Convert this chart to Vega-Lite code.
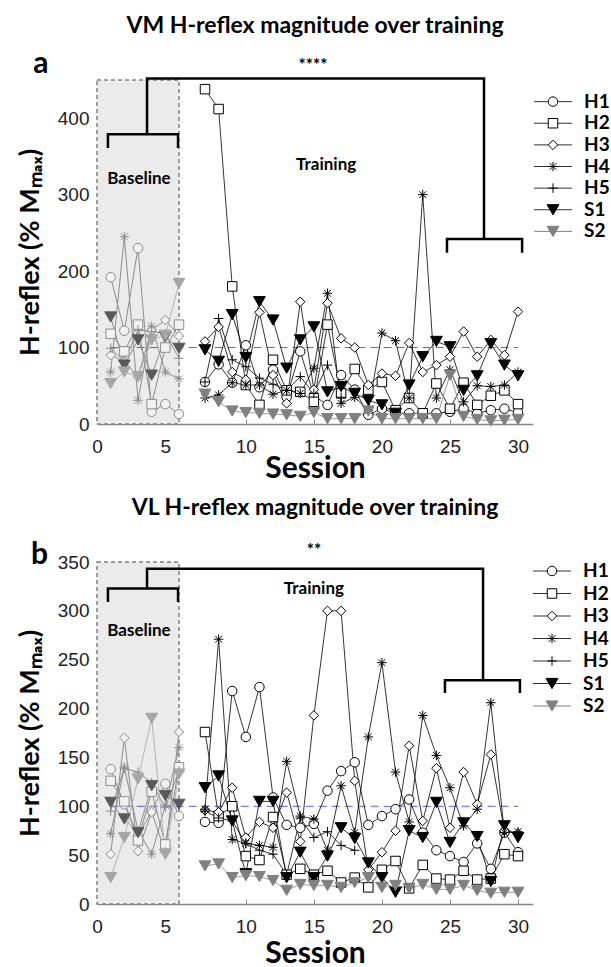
{
"$schema": "https://vega.github.io/schema/vega-lite/v6.json",
"padding": {"left": 16, "top": 15, "right": 0, "bottom": 0},
"config": {"view": {"stroke": null}, "font": "Liberation Sans"},
"datasets": {
"a": [
{"series":"H1","session":1,"value":192,"phase":"B"},{"series":"H1","session":2,"value":122,"phase":"B"},{"series":"H1","session":3,"value":230,"phase":"B"},{"series":"H1","session":4,"value":16,"phase":"B"},{"series":"H1","session":5,"value":26,"phase":"B"},{"series":"H1","session":6,"value":13,"phase":"B"},
{"series":"H2","session":1,"value":118,"phase":"B"},{"series":"H2","session":2,"value":95,"phase":"B"},{"series":"H2","session":3,"value":130,"phase":"B"},{"series":"H2","session":4,"value":26,"phase":"B"},{"series":"H2","session":5,"value":100,"phase":"B"},{"series":"H2","session":6,"value":130,"phase":"B"},
{"series":"H3","session":1,"value":90,"phase":"B"},{"series":"H3","session":2,"value":82,"phase":"B"},{"series":"H3","session":3,"value":62,"phase":"B"},{"series":"H3","session":4,"value":123,"phase":"B"},{"series":"H3","session":5,"value":136,"phase":"B"},{"series":"H3","session":6,"value":115,"phase":"B"},
{"series":"H4","session":1,"value":68,"phase":"B"},{"series":"H4","session":2,"value":245,"phase":"B"},{"series":"H4","session":3,"value":31,"phase":"B"},{"series":"H4","session":4,"value":128,"phase":"B"},{"series":"H4","session":5,"value":68,"phase":"B"},{"series":"H4","session":6,"value":59,"phase":"B"},
{"series":"H5","session":1,"value":99,"phase":"B"},{"series":"H5","session":2,"value":82,"phase":"B"},{"series":"H5","session":3,"value":123,"phase":"B"},{"series":"H5","session":4,"value":121,"phase":"B"},{"series":"H5","session":5,"value":118,"phase":"B"},{"series":"H5","session":6,"value":86,"phase":"B"},
{"series":"S1","session":1,"value":140,"phase":"B"},{"series":"S1","session":2,"value":77,"phase":"B"},{"series":"S1","session":3,"value":110,"phase":"B"},{"series":"S1","session":4,"value":64,"phase":"B"},{"series":"S1","session":5,"value":114,"phase":"B"},{"series":"S1","session":6,"value":99,"phase":"B"},
{"series":"S2","session":1,"value":53,"phase":"B"},{"series":"S2","session":2,"value":68,"phase":"B"},{"series":"S2","session":3,"value":62,"phase":"B"},{"series":"S2","session":4,"value":110,"phase":"B"},{"series":"S2","session":5,"value":116,"phase":"B"},{"series":"S2","session":6,"value":184,"phase":"B"},
{"series":"H1","session":7,"value":55,"phase":"T"},{"series":"H1","session":8,"value":78,"phase":"T"},{"series":"H1","session":9,"value":54,"phase":"T"},{"series":"H1","session":10,"value":103,"phase":"T"},{"series":"H1","session":11,"value":48,"phase":"T"},{"series":"H1","session":12,"value":71,"phase":"T"},{"series":"H1","session":13,"value":35,"phase":"T"},{"series":"H1","session":14,"value":95,"phase":"T"},{"series":"H1","session":15,"value":37,"phase":"T"},{"series":"H1","session":16,"value":25,"phase":"T"},{"series":"H1","session":17,"value":64,"phase":"T"},{"series":"H1","session":18,"value":45,"phase":"T"},{"series":"H1","session":19,"value":12,"phase":"T"},{"series":"H1","session":20,"value":20,"phase":"T"},{"series":"H1","session":21,"value":14,"phase":"T"},{"series":"H1","session":22,"value":14,"phase":"T"},{"series":"H1","session":23,"value":14,"phase":"T"},{"series":"H1","session":24,"value":14,"phase":"T"},{"series":"H1","session":25,"value":16,"phase":"T"},{"series":"H1","session":26,"value":20,"phase":"T"},{"series":"H1","session":27,"value":14,"phase":"T"},{"series":"H1","session":28,"value":18,"phase":"T"},{"series":"H1","session":29,"value":20,"phase":"T"},{"series":"H1","session":30,"value":15,"phase":"T"},
{"series":"H2","session":7,"value":438,"phase":"T"},{"series":"H2","session":8,"value":412,"phase":"T"},{"series":"H2","session":9,"value":180,"phase":"T"},{"series":"H2","session":10,"value":51,"phase":"T"},{"series":"H2","session":11,"value":25,"phase":"T"},{"series":"H2","session":12,"value":84,"phase":"T"},{"series":"H2","session":13,"value":44,"phase":"T"},{"series":"H2","session":14,"value":42,"phase":"T"},{"series":"H2","session":15,"value":29,"phase":"T"},{"series":"H2","session":16,"value":130,"phase":"T"},{"series":"H2","session":17,"value":40,"phase":"T"},{"series":"H2","session":18,"value":72,"phase":"T"},{"series":"H2","session":19,"value":45,"phase":"T"},{"series":"H2","session":20,"value":55,"phase":"T"},{"series":"H2","session":21,"value":18,"phase":"T"},{"series":"H2","session":22,"value":34,"phase":"T"},{"series":"H2","session":23,"value":14,"phase":"T"},{"series":"H2","session":24,"value":53,"phase":"T"},{"series":"H2","session":25,"value":20,"phase":"T"},{"series":"H2","session":26,"value":54,"phase":"T"},{"series":"H2","session":27,"value":25,"phase":"T"},{"series":"H2","session":28,"value":37,"phase":"T"},{"series":"H2","session":29,"value":44,"phase":"T"},{"series":"H2","session":30,"value":26,"phase":"T"},
{"series":"H3","session":7,"value":108,"phase":"T"},{"series":"H3","session":8,"value":127,"phase":"T"},{"series":"H3","session":9,"value":68,"phase":"T"},{"series":"H3","session":10,"value":58,"phase":"T"},{"series":"H3","session":11,"value":146,"phase":"T"},{"series":"H3","session":12,"value":64,"phase":"T"},{"series":"H3","session":13,"value":27,"phase":"T"},{"series":"H3","session":14,"value":160,"phase":"T"},{"series":"H3","session":15,"value":45,"phase":"T"},{"series":"H3","session":16,"value":158,"phase":"T"},{"series":"H3","session":17,"value":112,"phase":"T"},{"series":"H3","session":18,"value":100,"phase":"T"},{"series":"H3","session":19,"value":51,"phase":"T"},{"series":"H3","session":20,"value":66,"phase":"T"},{"series":"H3","session":21,"value":63,"phase":"T"},{"series":"H3","session":22,"value":106,"phase":"T"},{"series":"H3","session":23,"value":68,"phase":"T"},{"series":"H3","session":24,"value":77,"phase":"T"},{"series":"H3","session":25,"value":88,"phase":"T"},{"series":"H3","session":26,"value":121,"phase":"T"},{"series":"H3","session":27,"value":88,"phase":"T"},{"series":"H3","session":28,"value":110,"phase":"T"},{"series":"H3","session":29,"value":90,"phase":"T"},{"series":"H3","session":30,"value":147,"phase":"T"},
{"series":"H4","session":7,"value":34,"phase":"T"},{"series":"H4","session":8,"value":38,"phase":"T"},{"series":"H4","session":9,"value":54,"phase":"T"},{"series":"H4","session":10,"value":51,"phase":"T"},{"series":"H4","session":11,"value":51,"phase":"T"},{"series":"H4","session":12,"value":39,"phase":"T"},{"series":"H4","session":13,"value":44,"phase":"T"},{"series":"H4","session":14,"value":40,"phase":"T"},{"series":"H4","session":15,"value":73,"phase":"T"},{"series":"H4","session":16,"value":171,"phase":"T"},{"series":"H4","session":17,"value":27,"phase":"T"},{"series":"H4","session":18,"value":35,"phase":"T"},{"series":"H4","session":19,"value":18,"phase":"T"},{"series":"H4","session":20,"value":119,"phase":"T"},{"series":"H4","session":21,"value":109,"phase":"T"},{"series":"H4","session":22,"value":34,"phase":"T"},{"series":"H4","session":23,"value":300,"phase":"T"},{"series":"H4","session":24,"value":34,"phase":"T"},{"series":"H4","session":25,"value":71,"phase":"T"},{"series":"H4","session":26,"value":29,"phase":"T"},{"series":"H4","session":27,"value":50,"phase":"T"},{"series":"H4","session":28,"value":49,"phase":"T"},{"series":"H4","session":29,"value":51,"phase":"T"},{"series":"H4","session":30,"value":68,"phase":"T"},
{"series":"H5","session":7,"value":55,"phase":"T"},{"series":"H5","session":8,"value":138,"phase":"T"},{"series":"H5","session":9,"value":84,"phase":"T"},{"series":"H5","session":10,"value":75,"phase":"T"},{"series":"H5","session":11,"value":60,"phase":"T"},{"series":"H5","session":12,"value":52,"phase":"T"},{"series":"H5","session":13,"value":44,"phase":"T"},{"series":"H5","session":14,"value":62,"phase":"T"},{"series":"H5","session":15,"value":40,"phase":"T"},{"series":"H5","session":16,"value":77,"phase":"T"},{"series":"H5","session":17,"value":35,"phase":"T"},
{"series":"S1","session":7,"value":97,"phase":"T"},{"series":"S1","session":8,"value":82,"phase":"T"},{"series":"S1","session":9,"value":143,"phase":"T"},{"series":"S1","session":10,"value":87,"phase":"T"},{"series":"S1","session":11,"value":160,"phase":"T"},{"series":"S1","session":12,"value":136,"phase":"T"},{"series":"S1","session":13,"value":73,"phase":"T"},{"series":"S1","session":14,"value":110,"phase":"T"},{"series":"S1","session":15,"value":127,"phase":"T"},{"series":"S1","session":16,"value":42,"phase":"T"},{"series":"S1","session":17,"value":49,"phase":"T"},{"series":"S1","session":18,"value":40,"phase":"T"},{"series":"S1","session":19,"value":31,"phase":"T"},{"series":"S1","session":20,"value":25,"phase":"T"},{"series":"S1","session":21,"value":14,"phase":"T"},{"series":"S1","session":22,"value":51,"phase":"T"},{"series":"S1","session":23,"value":88,"phase":"T"},{"series":"S1","session":24,"value":108,"phase":"T"},{"series":"S1","session":25,"value":101,"phase":"T"},{"series":"S1","session":26,"value":44,"phase":"T"},{"series":"S1","session":27,"value":63,"phase":"T"},{"series":"S1","session":28,"value":105,"phase":"T"},{"series":"S1","session":29,"value":77,"phase":"T"},{"series":"S1","session":30,"value":63,"phase":"T"},
{"series":"S2","session":7,"value":39,"phase":"T"},{"series":"S2","session":8,"value":29,"phase":"T"},{"series":"S2","session":9,"value":17,"phase":"T"},{"series":"S2","session":10,"value":15,"phase":"T"},{"series":"S2","session":11,"value":14,"phase":"T"},{"series":"S2","session":12,"value":13,"phase":"T"},{"series":"S2","session":13,"value":12,"phase":"T"},{"series":"S2","session":14,"value":10,"phase":"T"},{"series":"S2","session":15,"value":15,"phase":"T"},{"series":"S2","session":16,"value":7,"phase":"T"},{"series":"S2","session":17,"value":7,"phase":"T"},{"series":"S2","session":18,"value":7,"phase":"T"},{"series":"S2","session":19,"value":17,"phase":"T"},{"series":"S2","session":20,"value":7,"phase":"T"},{"series":"S2","session":21,"value":7,"phase":"T"},{"series":"S2","session":22,"value":7,"phase":"T"},{"series":"S2","session":23,"value":7,"phase":"T"},{"series":"S2","session":24,"value":7,"phase":"T"},{"series":"S2","session":25,"value":64,"phase":"T"},{"series":"S2","session":26,"value":10,"phase":"T"},{"series":"S2","session":27,"value":6,"phase":"T"},{"series":"S2","session":28,"value":4,"phase":"T"},{"series":"S2","session":29,"value":5,"phase":"T"},{"series":"S2","session":30,"value":6,"phase":"T"}
],
"b": [
{"series":"H1","session":1,"value":138,"phase":"B"},{"series":"H1","session":2,"value":102,"phase":"B"},{"series":"H1","session":3,"value":70,"phase":"B"},{"series":"H1","session":4,"value":95,"phase":"B"},{"series":"H1","session":5,"value":123,"phase":"B"},{"series":"H1","session":6,"value":90,"phase":"B"},
{"series":"H2","session":1,"value":126,"phase":"B"},{"series":"H2","session":2,"value":105,"phase":"B"},{"series":"H2","session":3,"value":65,"phase":"B"},{"series":"H2","session":4,"value":115,"phase":"B"},{"series":"H2","session":5,"value":61,"phase":"B"},{"series":"H2","session":6,"value":140,"phase":"B"},
{"series":"H3","session":1,"value":51,"phase":"B"},{"series":"H3","session":2,"value":170,"phase":"B"},{"series":"H3","session":3,"value":54,"phase":"B"},{"series":"H3","session":4,"value":94,"phase":"B"},{"series":"H3","session":5,"value":53,"phase":"B"},{"series":"H3","session":6,"value":176,"phase":"B"},
{"series":"H4","session":1,"value":72,"phase":"B"},{"series":"H4","session":2,"value":140,"phase":"B"},{"series":"H4","session":3,"value":75,"phase":"B"},{"series":"H4","session":4,"value":51,"phase":"B"},{"series":"H4","session":5,"value":101,"phase":"B"},{"series":"H4","session":6,"value":160,"phase":"B"},
{"series":"H5","session":1,"value":95,"phase":"B"},{"series":"H5","session":2,"value":139,"phase":"B"},{"series":"H5","session":3,"value":135,"phase":"B"},{"series":"H5","session":4,"value":124,"phase":"B"},{"series":"H5","session":5,"value":99,"phase":"B"},{"series":"H5","session":6,"value":136,"phase":"B"},
{"series":"S1","session":1,"value":104,"phase":"B"},{"series":"S1","session":2,"value":87,"phase":"B"},{"series":"S1","session":3,"value":73,"phase":"B"},{"series":"S1","session":4,"value":121,"phase":"B"},{"series":"S1","session":5,"value":111,"phase":"B"},{"series":"S1","session":6,"value":102,"phase":"B"},
{"series":"S2","session":1,"value":27,"phase":"B"},{"series":"S2","session":2,"value":68,"phase":"B"},{"series":"S2","session":3,"value":128,"phase":"B"},{"series":"S2","session":4,"value":190,"phase":"B"},{"series":"S2","session":5,"value":51,"phase":"B"},{"series":"S2","session":6,"value":133,"phase":"B"},
{"series":"H1","session":7,"value":84,"phase":"T"},{"series":"H1","session":8,"value":83,"phase":"T"},{"series":"H1","session":9,"value":218,"phase":"T"},{"series":"H1","session":10,"value":171,"phase":"T"},{"series":"H1","session":11,"value":222,"phase":"T"},{"series":"H1","session":12,"value":109,"phase":"T"},{"series":"H1","session":13,"value":81,"phase":"T"},{"series":"H1","session":14,"value":78,"phase":"T"},{"series":"H1","session":15,"value":82,"phase":"T"},{"series":"H1","session":16,"value":116,"phase":"T"},{"series":"H1","session":17,"value":136,"phase":"T"},{"series":"H1","session":18,"value":145,"phase":"T"},{"series":"H1","session":19,"value":81,"phase":"T"},{"series":"H1","session":20,"value":90,"phase":"T"},{"series":"H1","session":21,"value":97,"phase":"T"},{"series":"H1","session":22,"value":107,"phase":"T"},{"series":"H1","session":23,"value":73,"phase":"T"},{"series":"H1","session":24,"value":55,"phase":"T"},{"series":"H1","session":25,"value":49,"phase":"T"},{"series":"H1","session":26,"value":43,"phase":"T"},{"series":"H1","session":27,"value":62,"phase":"T"},{"series":"H1","session":28,"value":36,"phase":"T"},{"series":"H1","session":29,"value":73,"phase":"T"},{"series":"H1","session":30,"value":53,"phase":"T"},
{"series":"H2","session":7,"value":176,"phase":"T"},{"series":"H2","session":8,"value":90,"phase":"T"},{"series":"H2","session":9,"value":100,"phase":"T"},{"series":"H2","session":10,"value":49,"phase":"T"},{"series":"H2","session":11,"value":45,"phase":"T"},{"series":"H2","session":12,"value":89,"phase":"T"},{"series":"H2","session":13,"value":30,"phase":"T"},{"series":"H2","session":14,"value":36,"phase":"T"},{"series":"H2","session":15,"value":30,"phase":"T"},{"series":"H2","session":16,"value":34,"phase":"T"},{"series":"H2","session":17,"value":22,"phase":"T"},{"series":"H2","session":18,"value":27,"phase":"T"},{"series":"H2","session":19,"value":17,"phase":"T"},{"series":"H2","session":20,"value":35,"phase":"T"},{"series":"H2","session":21,"value":44,"phase":"T"},{"series":"H2","session":22,"value":16,"phase":"T"},{"series":"H2","session":23,"value":40,"phase":"T"},{"series":"H2","session":24,"value":26,"phase":"T"},{"series":"H2","session":25,"value":25,"phase":"T"},{"series":"H2","session":26,"value":34,"phase":"T"},{"series":"H2","session":27,"value":25,"phase":"T"},{"series":"H2","session":28,"value":26,"phase":"T"},{"series":"H2","session":29,"value":51,"phase":"T"},{"series":"H2","session":30,"value":49,"phase":"T"},
{"series":"H3","session":7,"value":96,"phase":"T"},{"series":"H3","session":8,"value":94,"phase":"T"},{"series":"H3","session":9,"value":119,"phase":"T"},{"series":"H3","session":10,"value":68,"phase":"T"},{"series":"H3","session":11,"value":84,"phase":"T"},{"series":"H3","session":12,"value":78,"phase":"T"},{"series":"H3","session":13,"value":114,"phase":"T"},{"series":"H3","session":14,"value":64,"phase":"T"},{"series":"H3","session":15,"value":193,"phase":"T"},{"series":"H3","session":16,"value":300,"phase":"T"},{"series":"H3","session":17,"value":300,"phase":"T"},{"series":"H3","session":18,"value":126,"phase":"T"},{"series":"H3","session":19,"value":35,"phase":"T"},{"series":"H3","session":20,"value":53,"phase":"T"},{"series":"H3","session":21,"value":75,"phase":"T"},{"series":"H3","session":22,"value":162,"phase":"T"},{"series":"H3","session":23,"value":85,"phase":"T"},{"series":"H3","session":24,"value":139,"phase":"T"},{"series":"H3","session":25,"value":78,"phase":"T"},{"series":"H3","session":26,"value":135,"phase":"T"},{"series":"H3","session":27,"value":102,"phase":"T"},{"series":"H3","session":28,"value":153,"phase":"T"},{"series":"H3","session":29,"value":75,"phase":"T"},{"series":"H3","session":30,"value":72,"phase":"T"},
{"series":"H4","session":7,"value":97,"phase":"T"},{"series":"H4","session":8,"value":271,"phase":"T"},{"series":"H4","session":9,"value":66,"phase":"T"},{"series":"H4","session":10,"value":62,"phase":"T"},{"series":"H4","session":11,"value":60,"phase":"T"},{"series":"H4","session":12,"value":58,"phase":"T"},{"series":"H4","session":13,"value":146,"phase":"T"},{"series":"H4","session":14,"value":90,"phase":"T"},{"series":"H4","session":15,"value":87,"phase":"T"},{"series":"H4","session":16,"value":55,"phase":"T"},{"series":"H4","session":17,"value":121,"phase":"T"},{"series":"H4","session":18,"value":73,"phase":"T"},{"series":"H4","session":19,"value":171,"phase":"T"},{"series":"H4","session":20,"value":247,"phase":"T"},{"series":"H4","session":21,"value":135,"phase":"T"},{"series":"H4","session":22,"value":84,"phase":"T"},{"series":"H4","session":23,"value":193,"phase":"T"},{"series":"H4","session":24,"value":152,"phase":"T"},{"series":"H4","session":25,"value":119,"phase":"T"},{"series":"H4","session":26,"value":80,"phase":"T"},{"series":"H4","session":27,"value":97,"phase":"T"},{"series":"H4","session":28,"value":206,"phase":"T"},{"series":"H4","session":29,"value":73,"phase":"T"},{"series":"H4","session":30,"value":74,"phase":"T"},
{"series":"H5","session":7,"value":95,"phase":"T"},{"series":"H5","session":8,"value":88,"phase":"T"},{"series":"H5","session":9,"value":85,"phase":"T"},{"series":"H5","session":10,"value":62,"phase":"T"},{"series":"H5","session":11,"value":55,"phase":"T"},{"series":"H5","session":12,"value":51,"phase":"T"},{"series":"H5","session":13,"value":30,"phase":"T"},{"series":"H5","session":14,"value":88,"phase":"T"},{"series":"H5","session":15,"value":68,"phase":"T"},{"series":"H5","session":16,"value":74,"phase":"T"},{"series":"H5","session":17,"value":60,"phase":"T"},{"series":"H5","session":18,"value":55,"phase":"T"},
{"series":"S1","session":7,"value":119,"phase":"T"},{"series":"S1","session":8,"value":131,"phase":"T"},{"series":"S1","session":9,"value":85,"phase":"T"},{"series":"S1","session":10,"value":31,"phase":"T"},{"series":"S1","session":11,"value":105,"phase":"T"},{"series":"S1","session":12,"value":105,"phase":"T"},{"series":"S1","session":13,"value":27,"phase":"T"},{"series":"S1","session":14,"value":53,"phase":"T"},{"series":"S1","session":15,"value":27,"phase":"T"},{"series":"S1","session":16,"value":49,"phase":"T"},{"series":"S1","session":17,"value":78,"phase":"T"},{"series":"S1","session":18,"value":67,"phase":"T"},{"series":"S1","session":19,"value":42,"phase":"T"},{"series":"S1","session":20,"value":27,"phase":"T"},{"series":"S1","session":21,"value":12,"phase":"T"},{"series":"S1","session":22,"value":75,"phase":"T"},{"series":"S1","session":23,"value":68,"phase":"T"},{"series":"S1","session":24,"value":104,"phase":"T"},{"series":"S1","session":25,"value":63,"phase":"T"},{"series":"S1","session":26,"value":83,"phase":"T"},{"series":"S1","session":27,"value":69,"phase":"T"},{"series":"S1","session":28,"value":23,"phase":"T"},{"series":"S1","session":29,"value":80,"phase":"T"},{"series":"S1","session":30,"value":68,"phase":"T"},
{"series":"S2","session":7,"value":39,"phase":"T"},{"series":"S2","session":8,"value":41,"phase":"T"},{"series":"S2","session":9,"value":27,"phase":"T"},{"series":"S2","session":10,"value":29,"phase":"T"},{"series":"S2","session":11,"value":28,"phase":"T"},{"series":"S2","session":12,"value":24,"phase":"T"},{"series":"S2","session":13,"value":14,"phase":"T"},{"series":"S2","session":14,"value":20,"phase":"T"},{"series":"S2","session":15,"value":19,"phase":"T"},{"series":"S2","session":16,"value":19,"phase":"T"},{"series":"S2","session":17,"value":17,"phase":"T"},{"series":"S2","session":18,"value":22,"phase":"T"},{"series":"S2","session":19,"value":27,"phase":"T"},{"series":"S2","session":20,"value":17,"phase":"T"},{"series":"S2","session":21,"value":19,"phase":"T"},{"series":"S2","session":22,"value":16,"phase":"T"},{"series":"S2","session":23,"value":20,"phase":"T"},{"series":"S2","session":24,"value":15,"phase":"T"},{"series":"S2","session":25,"value":15,"phase":"T"},{"series":"S2","session":26,"value":19,"phase":"T"},{"series":"S2","session":27,"value":14,"phase":"T"},{"series":"S2","session":28,"value":11,"phase":"T"},{"series":"S2","session":29,"value":12,"phase":"T"},{"series":"S2","session":30,"value":12,"phase":"T"}
],
"legend": [{"series":"H1"},{"series":"H2"},{"series":"H3"},{"series":"H4"},{"series":"H5"},{"series":"S1"},{"series":"S2"}],
"bracketsA": [
{"part":"L","k":1,"session":0.8,"value":361},{"part":"L","k":2,"session":0.8,"value":379},{"part":"L","k":3,"session":5.93,"value":379},{"part":"L","k":4,"session":5.93,"value":361},
{"part":"C","k":1,"session":3.66,"value":379},{"part":"C","k":2,"session":3.66,"value":452},{"part":"C","k":3,"session":27.5,"value":452},{"part":"C","k":4,"session":27.5,"value":242},
{"part":"R","k":1,"session":24.78,"value":224},{"part":"R","k":2,"session":24.78,"value":242},{"part":"R","k":3,"session":30.3,"value":242},{"part":"R","k":4,"session":30.3,"value":224}
],
"bracketsB": [
{"part":"L","k":1,"session":0.8,"value":309},{"part":"L","k":2,"session":0.8,"value":323},{"part":"L","k":3,"session":5.93,"value":323},{"part":"L","k":4,"session":5.93,"value":309},
{"part":"C","k":1,"session":3.66,"value":323},{"part":"C","k":2,"session":3.66,"value":343},{"part":"C","k":3,"session":27.43,"value":343},{"part":"C","k":4,"session":27.43,"value":229},
{"part":"R","k":1,"session":24.63,"value":216},{"part":"R","k":2,"session":24.63,"value":229},{"part":"R","k":3,"session":30.14,"value":229},{"part":"R","k":4,"session":30.14,"value":216}
]
},
"vconcat": [
{"spacing": 0, "hconcat": [
{"width": 436, "height": 344,
 "title": {"text": "VM H-reflex magnitude over training", "font": "Lato", "fontSize": 23, "fontWeight": "bold", "color": "#000", "anchor": "middle", "offset": 11},
 "layer": [
  {"data": {"values": [{}]}, "mark": {"type": "rect", "fill": "#ebebeb", "stroke": "#808080", "strokeDash": [4, 3], "strokeWidth": 1.5},
   "encoding": {
    "x": {"datum": 0, "type": "quantitative", "scale": {"domain": [0, 6, 7, 31.1], "range": [0, 82, 108, 436], "nice": false, "zero": false},
      "axis": {"values": [0, 5, 10, 15, 20, 25, 30], "title": "Session", "titleFont": "Lato", "titleFontSize": 30, "titleFontWeight": "bold", "titleColor": "#000", "titlePadding": -3, "labelFont": "Liberation Sans", "labelFontSize": 19, "labelColor": "#222", "labelPadding": 18, "tickSize": -5, "tickColor": "#888", "domainColor": "#888", "domainWidth": 1.5, "grid": false, "labelFlush": false}},
    "x2": {"datum": 6},
    "y": {"datum": 0, "type": "quantitative", "scale": {"domain": [0, 450], "nice": false},
      "axis": {"values": [0, 50, 100, 150, 200, 250, 300, 350, 400, 450], "title": "H-reflex (% Mₘₐₓ)", "titleFont": "Lato", "titleFontSize": 27, "titleFontWeight": "bold", "titleColor": "#000", "titlePadding": 13, "labelFont": "Liberation Sans", "labelFontSize": 19, "labelColor": "#222", "labelPadding": 8, "ticks": false, "domain": false, "grid": false}},
    "y2": {"datum": 450}}},
  {"data": {"values": [{}]}, "mark": {"type": "rule", "stroke": "#5a5aff", "strokeDash": [8, 5], "strokeWidth": 1},
   "encoding": {"x": {"datum": 1, "type": "quantitative"}, "x2": {"datum": 30}, "y": {"datum": 100, "type": "quantitative"}}},
  {"data": {"name": "a"}, "transform": [{"filter": "datum.phase == 'B'"}], "mark": {"type": "line", "strokeWidth": 1},
   "encoding": {"x": {"field": "session", "type": "quantitative"}, "y": {"field": "value", "type": "quantitative"}, "detail": {"field": "series"},
    "stroke": {"condition": {"test": "datum.series == 'S2'", "value": "#b3b3b3"}, "value": "#8c8c8c"}}},
  {"data": {"name": "a"}, "transform": [{"filter": "datum.phase == 'T'"}], "mark": {"type": "line", "strokeWidth": 0.8},
   "encoding": {"x": {"field": "session", "type": "quantitative"}, "y": {"field": "value", "type": "quantitative"}, "detail": {"field": "series"},
    "stroke": {"condition": {"test": "datum.series == 'S2'", "value": "#808080"}, "value": "#000"}}},
  {"data": {"name": "a"}, "transform": [{"filter": "datum.phase == 'B'"}], "mark": {"type": "point", "filled": true, "opacity": 1, "strokeWidth": 1},
   "encoding": {"x": {"field": "session", "type": "quantitative"}, "y": {"field": "value", "type": "quantitative"},
    "shape": {"field": "series", "type": "nominal", "scale": {"domain": ["H1","H2","H3","H4","H5","S1","S2"], "range": ["circle","square","diamond","M-1,0L1,0M0,-1L0,1M-0.72,-0.72L0.72,0.72M-0.72,0.72L0.72,-0.72","M-1,0L1,0M0,-1L0,1","triangle-down","triangle-down"]}, "legend": null},
    "size": {"condition": {"test": "datum.series == 'S1' || datum.series == 'S2'", "value": 140}, "value": 90},
    "fill": {"condition": [{"test": "datum.series == 'S1'", "value": "#595959"}, {"test": "datum.series == 'S2'", "value": "#a6a6a6"}], "value": "#f2f2f2"},
    "stroke": {"condition": [{"test": "datum.series == 'S1'", "value": "#595959"}, {"test": "datum.series == 'S2'", "value": "#a6a6a6"}], "value": "#8c8c8c"}}},
  {"data": {"name": "a"}, "transform": [{"filter": "datum.phase == 'T'"}], "mark": {"type": "point", "filled": true, "opacity": 1, "strokeWidth": 1},
   "encoding": {"x": {"field": "session", "type": "quantitative"}, "y": {"field": "value", "type": "quantitative"},
    "shape": {"field": "series", "type": "nominal", "legend": null},
    "size": {"condition": {"test": "datum.series == 'S1' || datum.series == 'S2'", "value": 140}, "value": 90},
    "fill": {"condition": [{"test": "datum.series == 'S1'", "value": "#000"}, {"test": "datum.series == 'S2'", "value": "#808080"}], "value": "#fff"},
    "stroke": {"condition": [{"test": "datum.series == 'S2'", "value": "#808080"}], "value": "#000"}}},
  {"data": {"name": "bracketsA"}, "mark": {"type": "line", "stroke": "#000", "strokeWidth": 2.5, "strokeJoin": "miter", "strokeCap": "butt"},
   "encoding": {"x": {"field": "session", "type": "quantitative"}, "y": {"field": "value", "type": "quantitative"}, "detail": {"field": "part"}, "order": {"field": "k"}}},
  {"data": {"values": [{"label": "Baseline", "session": 3.07, "value": 320}, {"label": "Training", "session": 15.9, "value": 339}]},
   "mark": {"type": "text", "font": "Lato", "fontSize": 17, "fontWeight": "bold", "color": "#000", "baseline": "middle"},
   "encoding": {"x": {"field": "session", "type": "quantitative"}, "y": {"field": "value", "type": "quantitative"}, "text": {"field": "label"}}},
  {"data": {"values": [{"label": "****", "session": 14.94, "value": 473}]},
   "mark": {"type": "text", "font": "Lato", "fontSize": 17, "fontWeight": "bold", "color": "#000", "baseline": "middle", "dy": 4},
   "encoding": {"x": {"field": "session", "type": "quantitative"}, "y": {"field": "value", "type": "quantitative"}, "text": {"field": "label"}}},
  {"data": {"values": [{"label": "a", "session": -4.1, "value": 459}]},
   "mark": {"type": "text", "font": "Lato", "fontSize": 30, "fontWeight": "bold", "color": "#000", "baseline": "alphabetic"},
   "encoding": {"x": {"field": "session", "type": "quantitative"}, "y": {"field": "value", "type": "quantitative"}, "text": {"field": "label"}}}
 ]},
{"width": 38, "height": 173, "data": {"name": "legend"},
 "layer": [
  {"mark": {"type": "rule", "strokeWidth": 1},
   "encoding": {"x": {"datum": 0, "type": "quantitative", "scale": {"domain": [0, 1]}, "axis": null}, "x2": {"datum": 1},
    "y": {"field": "series", "type": "nominal", "scale": {"type": "point", "domain": ["H1","H2","H3","H4","H5","S1","S2"], "padding": 1.02}, "axis": null},
    "stroke": {"condition": {"test": "datum.series == 'S2'", "value": "#808080"}, "value": "#333"}}},
  {"mark": {"type": "point", "filled": true, "opacity": 1, "strokeWidth": 1},
   "encoding": {"x": {"datum": 0.5, "type": "quantitative"}, "y": {"field": "series", "type": "nominal"},
    "shape": {"field": "series", "type": "nominal", "scale": {"domain": ["H1","H2","H3","H4","H5","S1","S2"], "range": ["circle","square","diamond","M-1,0L1,0M0,-1L0,1M-0.72,-0.72L0.72,0.72M-0.72,0.72L0.72,-0.72","M-1,0L1,0M0,-1L0,1","triangle-down","triangle-down"]}, "legend": null},
    "size": {"condition": {"test": "datum.series == 'S1' || datum.series == 'S2'", "value": 140}, "value": 90},
    "fill": {"condition": [{"test": "datum.series == 'S1'", "value": "#000"}, {"test": "datum.series == 'S2'", "value": "#808080"}], "value": "#fff"},
    "stroke": {"condition": [{"test": "datum.series == 'S2'", "value": "#808080"}], "value": "#000"}}},
  {"mark": {"type": "text", "align": "left", "baseline": "middle", "dx": 12, "font": "Lato", "fontSize": 19, "fontWeight": "bold", "color": "#000"},
   "encoding": {"x": {"datum": 1, "type": "quantitative"}, "y": {"field": "series", "type": "nominal"}, "text": {"field": "series"}}}
 ]}
]},
{"spacing": -2, "hconcat": [
{"width": 436, "height": 342,
 "title": {"text": "VL H-reflex magnitude over training", "font": "Lato", "fontSize": 23, "fontWeight": "bold", "color": "#000", "anchor": "middle", "offset": 20},
 "layer": [
  {"data": {"values": [{}]}, "mark": {"type": "rect", "fill": "#ebebeb", "stroke": "#808080", "strokeDash": [4, 3], "strokeWidth": 1.5},
   "encoding": {
    "x": {"datum": 0, "type": "quantitative", "scale": {"domain": [0, 6, 7, 31.1], "range": [0, 82, 108, 436], "nice": false, "zero": false},
      "axis": {"values": [0, 5, 10, 15, 20, 25, 30], "title": "Session", "titleFont": "Lato", "titleFontSize": 30, "titleFontWeight": "bold", "titleColor": "#000", "titlePadding": 2, "labelFont": "Liberation Sans", "labelFontSize": 19, "labelColor": "#222", "labelPadding": 18, "tickSize": -5, "tickColor": "#888", "domainColor": "#888", "domainWidth": 1.5, "grid": false, "labelFlush": false}},
    "x2": {"datum": 6},
    "y": {"datum": 0, "type": "quantitative", "scale": {"domain": [0, 350], "nice": false},
      "axis": {"values": [0, 50, 100, 150, 200, 250, 300, 350], "title": "H-reflex (% Mₘₐₓ)", "titleFont": "Lato", "titleFontSize": 27, "titleFontWeight": "bold", "titleColor": "#000", "titlePadding": 13, "labelFont": "Liberation Sans", "labelFontSize": 19, "labelColor": "#222", "labelPadding": 8, "ticks": false, "domain": false, "grid": false}},
    "y2": {"datum": 350}}},
  {"data": {"values": [{}]}, "mark": {"type": "rule", "stroke": "#5a5aff", "strokeDash": [8, 5], "strokeWidth": 1},
   "encoding": {"x": {"datum": 1, "type": "quantitative"}, "x2": {"datum": 30}, "y": {"datum": 100, "type": "quantitative"}}},
  {"data": {"name": "b"}, "transform": [{"filter": "datum.phase == 'B'"}], "mark": {"type": "line", "strokeWidth": 1},
   "encoding": {"x": {"field": "session", "type": "quantitative"}, "y": {"field": "value", "type": "quantitative"}, "detail": {"field": "series"},
    "stroke": {"condition": {"test": "datum.series == 'S2'", "value": "#b3b3b3"}, "value": "#8c8c8c"}}},
  {"data": {"name": "b"}, "transform": [{"filter": "datum.phase == 'T'"}], "mark": {"type": "line", "strokeWidth": 0.8},
   "encoding": {"x": {"field": "session", "type": "quantitative"}, "y": {"field": "value", "type": "quantitative"}, "detail": {"field": "series"},
    "stroke": {"condition": {"test": "datum.series == 'S2'", "value": "#808080"}, "value": "#000"}}},
  {"data": {"name": "b"}, "transform": [{"filter": "datum.phase == 'B'"}], "mark": {"type": "point", "filled": true, "opacity": 1, "strokeWidth": 1},
   "encoding": {"x": {"field": "session", "type": "quantitative"}, "y": {"field": "value", "type": "quantitative"},
    "shape": {"field": "series", "type": "nominal", "scale": {"domain": ["H1","H2","H3","H4","H5","S1","S2"], "range": ["circle","square","diamond","M-1,0L1,0M0,-1L0,1M-0.72,-0.72L0.72,0.72M-0.72,0.72L0.72,-0.72","M-1,0L1,0M0,-1L0,1","triangle-down","triangle-down"]}, "legend": null},
    "size": {"condition": {"test": "datum.series == 'S1' || datum.series == 'S2'", "value": 140}, "value": 90},
    "fill": {"condition": [{"test": "datum.series == 'S1'", "value": "#595959"}, {"test": "datum.series == 'S2'", "value": "#a6a6a6"}], "value": "#f2f2f2"},
    "stroke": {"condition": [{"test": "datum.series == 'S1'", "value": "#595959"}, {"test": "datum.series == 'S2'", "value": "#a6a6a6"}], "value": "#8c8c8c"}}},
  {"data": {"name": "b"}, "transform": [{"filter": "datum.phase == 'T'"}], "mark": {"type": "point", "filled": true, "opacity": 1, "strokeWidth": 1},
   "encoding": {"x": {"field": "session", "type": "quantitative"}, "y": {"field": "value", "type": "quantitative"},
    "shape": {"field": "series", "type": "nominal", "legend": null},
    "size": {"condition": {"test": "datum.series == 'S1' || datum.series == 'S2'", "value": 140}, "value": 90},
    "fill": {"condition": [{"test": "datum.series == 'S1'", "value": "#000"}, {"test": "datum.series == 'S2'", "value": "#808080"}], "value": "#fff"},
    "stroke": {"condition": [{"test": "datum.series == 'S2'", "value": "#808080"}], "value": "#000"}}},
  {"data": {"name": "bracketsB"}, "mark": {"type": "line", "stroke": "#000", "strokeWidth": 2.5, "strokeJoin": "miter", "strokeCap": "butt"},
   "encoding": {"x": {"field": "session", "type": "quantitative"}, "y": {"field": "value", "type": "quantitative"}, "detail": {"field": "part"}, "order": {"field": "k"}}},
  {"data": {"values": [{"label": "Baseline", "session": 3.07, "value": 279}, {"label": "Training", "session": 15.0, "value": 322}]},
   "mark": {"type": "text", "font": "Lato", "fontSize": 17, "fontWeight": "bold", "color": "#000", "baseline": "middle"},
   "encoding": {"x": {"field": "session", "type": "quantitative"}, "y": {"field": "value", "type": "quantitative"}, "text": {"field": "label"}}},
  {"data": {"values": [{"label": "**", "session": 15.0, "value": 365}]},
   "mark": {"type": "text", "font": "Lato", "fontSize": 17, "fontWeight": "bold", "color": "#000", "baseline": "middle", "dy": 4},
   "encoding": {"x": {"field": "session", "type": "quantitative"}, "y": {"field": "value", "type": "quantitative"}, "text": {"field": "label"}}},
  {"data": {"values": [{"label": "b", "session": -4.2, "value": 348}]},
   "mark": {"type": "text", "font": "Lato", "fontSize": 30, "fontWeight": "bold", "color": "#000", "baseline": "alphabetic"},
   "encoding": {"x": {"field": "session", "type": "quantitative"}, "y": {"field": "value", "type": "quantitative"}, "text": {"field": "label"}}}
 ]},
{"width": 38, "height": 153, "data": {"name": "legend"},
 "layer": [
  {"mark": {"type": "rule", "strokeWidth": 1},
   "encoding": {"x": {"datum": 0, "type": "quantitative", "scale": {"domain": [0, 1]}, "axis": null}, "x2": {"datum": 1},
    "y": {"field": "series", "type": "nominal", "scale": {"type": "point", "domain": ["H1","H2","H3","H4","H5","S1","S2"], "padding": 0.4}, "axis": null},
    "stroke": {"condition": {"test": "datum.series == 'S2'", "value": "#808080"}, "value": "#333"}}},
  {"mark": {"type": "point", "filled": true, "opacity": 1, "strokeWidth": 1},
   "encoding": {"x": {"datum": 0.5, "type": "quantitative"}, "y": {"field": "series", "type": "nominal"},
    "shape": {"field": "series", "type": "nominal", "scale": {"domain": ["H1","H2","H3","H4","H5","S1","S2"], "range": ["circle","square","diamond","M-1,0L1,0M0,-1L0,1M-0.72,-0.72L0.72,0.72M-0.72,0.72L0.72,-0.72","M-1,0L1,0M0,-1L0,1","triangle-down","triangle-down"]}, "legend": null},
    "size": {"condition": {"test": "datum.series == 'S1' || datum.series == 'S2'", "value": 140}, "value": 90},
    "fill": {"condition": [{"test": "datum.series == 'S1'", "value": "#000"}, {"test": "datum.series == 'S2'", "value": "#808080"}], "value": "#fff"},
    "stroke": {"condition": [{"test": "datum.series == 'S2'", "value": "#808080"}], "value": "#000"}}},
  {"mark": {"type": "text", "align": "left", "baseline": "middle", "dx": 12, "font": "Lato", "fontSize": 19, "fontWeight": "bold", "color": "#000"},
   "encoding": {"x": {"datum": 1, "type": "quantitative"}, "y": {"field": "series", "type": "nominal"}, "text": {"field": "series"}}}
 ]}
]}
],
"spacing": 13
}
